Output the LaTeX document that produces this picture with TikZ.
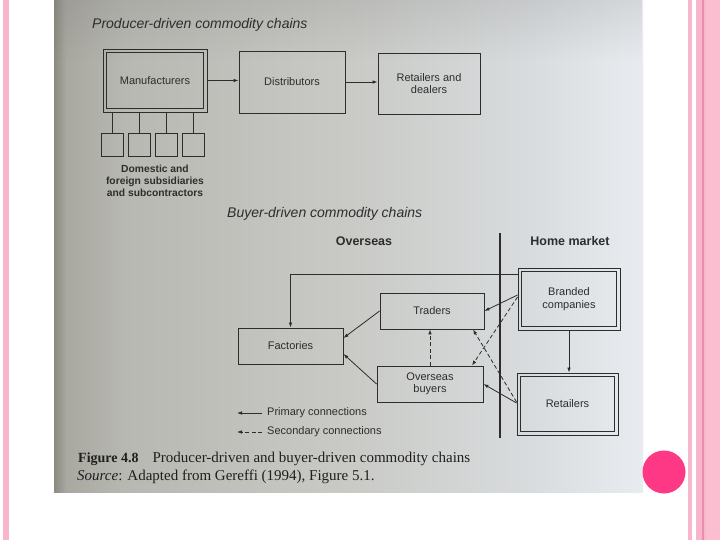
\documentclass[tikz,border=0pt]{standalone}
\usepackage{fontspec}
\setmainfont{Liberation Serif}
\setsansfont{Liberation Sans}
\usetikzlibrary{arrows.meta,calc,fadings}

\definecolor{ink}{RGB}{45,45,45}
\definecolor{pinkA}{RGB}{248,182,202}
\definecolor{pinkB}{RGB}{236,140,176}
\definecolor{pinkC}{RGB}{250,190,208}
\definecolor{hotpink}{RGB}{254,56,132}
\definecolor{p0}{RGB}{140,138,128}
\definecolor{p1}{RGB}{168,167,160}
\definecolor{p2}{RGB}{184,184,178}
\definecolor{p3}{RGB}{201,202,198}
\definecolor{p4}{RGB}{216,219,221}
\definecolor{p5}{RGB}{232,236,240}

\pgfdeclarehorizontalshading{photo}{100bp}{color(0bp)=(p0); color(25bp)=(p0); color(26bp)=(p1); color(31bp)=(p2); color(50bp)=(p3); color(65bp)=(p4); color(75bp)=(p5); color(100bp)=(p5)}
\tikzfading[name=topfade, top color=transparent!85, bottom color=transparent!100]

\tikzset{
  boxtext/.style={font=\sffamily\fontsize{11}{12.5}\selectfont, text=ink, align=center},
  box/.style={boxtext, draw=ink, line width=0.9pt, inner sep=0pt},
  sbox/.style={draw=ink, line width=0.9pt, minimum width=22pt, minimum height=23pt, inner sep=0pt},
  conn/.style={draw=ink, line width=0.8pt},
  arr/.style={conn, -{Latex[length=5pt,width=3.6pt]}},
  darr/.style={arr, dash pattern=on 4pt off 2.5pt},
  ttl/.style={font=\sffamily\itshape\fontsize{14}{16}\selectfont, text=ink, anchor=west, inner sep=0pt},
  hdr/.style={font=\sffamily\bfseries\fontsize{12.5}{14}\selectfont, text=ink, inner sep=0pt},
  leg/.style={font=\sffamily\fontsize{11}{12}\selectfont, text=ink, anchor=west, inner sep=0pt},
  captxt/.style={anchor=base west, inner sep=0pt, text=black!88},
}

\begin{document}
\begin{tikzpicture}[x=1pt,y=-1pt]
\useasboundingbox (0,0) rectangle (720,540);
\fill[white] (0,0) rectangle (720,540);

% slide decorations
\fill[pinkA] (3,0) rectangle (9,540);
\fill[pinkA] (688,0) rectangle (692,540);
\fill[pinkA] (696,0) rectangle (720,540);
\fill[pinkC] (706,0) rectangle (720,540);
\fill[pinkB] (701.5,0) rectangle (703.5,540);

% photo background
\shade[shading=photo] (54,0) rectangle (643,492);
\fill[black!60, path fading=topfade] (54,0) rectangle (643,60);

\fill[hotpink] (664,472) circle[radius=21.5pt];

% ---------- Producer-driven ----------
\node[ttl] (t1) at (92,25) {Producer-driven commodity chains};

\node[box, minimum width=104pt, minimum height=63pt] (mfr) at (155,80.5) {Manufacturers};
\draw[ink, line width=0.9pt] ([shift={(4pt,-4pt)}]mfr.north west) rectangle ([shift={(-4pt,4pt)}]mfr.south east);
\node[box, minimum width=106pt, minimum height=62pt] (dist) at (292,82) {Distributors};
\node[box, minimum width=102pt, minimum height=61pt] (ret) at (429,83.5) {Retailers and\\dealers};

\draw[arr] (mfr.east) -- (mfr.east -| dist.west);
\draw[arr] (dist.east) -- (dist.east -| ret.west);

\node[sbox] (s1) at (112.5,144.5) {};
\node[sbox] (s2) at (139,144.5) {};
\node[sbox] (s3) at (166,144.5) {};
\node[sbox] (s4) at (193,144.5) {};
\foreach \s in {s1,s2,s3,s4} \draw[conn] (\s.north) -- (\s.north |- mfr.south);

\node[font=\sffamily\bfseries\fontsize{10.3}{12}\selectfont, text=ink, align=center, inner sep=0pt] (subs) at (155,181) {Domestic and\\foreign subsidiaries\\and subcontractors};

% ---------- Buyer-driven ----------
\node[ttl] (t2) at (227,214) {Buyer-driven commodity chains};
\node[hdr] (ovs) at (364,241) {Overseas};
\node[hdr] (home) at (570,241) {Home market};

\coordinate (bartop) at (500,233);
\coordinate (barbot) at (500,438);
\draw[ink, line width=2.6pt] (bartop) -- (barbot);

\node[box, minimum width=102pt, minimum height=62pt] (brand) at (569,299) {Branded\\companies};
\draw[ink, line width=0.9pt] ([shift={(4pt,-4pt)}]brand.north west) rectangle ([shift={(-4pt,4pt)}]brand.south east);
\node[box, minimum width=101pt, minimum height=62pt] (retl) at (567.5,404) {Retailers};
\draw[ink, line width=0.9pt] ([shift={(4pt,-4pt)}]retl.north west) rectangle ([shift={(-4pt,4pt)}]retl.south east);

\node[box, minimum width=104pt, minimum height=36pt] (trad) at (432,311) {Traders};
\node[box, minimum width=106pt, minimum height=36pt] (buy) at (430,384) {Overseas\\buyers};
\node[box, minimum width=105pt, minimum height=36pt] (fact) at (290.5,346) {Factories};

% primary connections
\draw[arr] ([yshift=25pt]brand.west) -| (fact.north);
\draw[arr] (trad.west) -- ([yshift=8pt]fact.east);
\draw[arr] (buy.west) -- ([yshift=-8pt]fact.east);
\draw[arr] ([yshift=4pt]brand.west) -- (trad.east);
\draw[arr] ([yshift=1pt]retl.west) -- (buy.east);
\draw[arr] (brand.south) -- (brand.south |- retl.north);

% secondary connections
\draw[darr] (buy.north) -- (buy.north |- trad.south);
\draw[darr] ([yshift=2pt]brand.west) -- ([xshift=42pt]buy.north);
\draw[darr] ([yshift=2pt]retl.west) -- ([xshift=41pt]trad.south);

% legend
\node[leg] (lp) at (267,413) {Primary connections};
\node[leg] (ls) at (267,432) {Secondary connections};
\coordinate (lpa) at (262,413);
\coordinate (lpb) at (237,413);
\coordinate (lsa) at (262,432);
\coordinate (lsb) at (237,432);
\draw[arr] (lpa) -- (lpb);
\draw[darr] (lsa) -- (lsb);

% caption
\node[captxt, font=\fontsize{15}{17}\selectfont] (cap1) at (78,462) {{\fontsize{14}{17}\selectfont\textbf{Figure 4.8}}\hspace{14pt}Producer-driven and buyer-driven commodity chains};
\node[captxt, font=\fontsize{15}{17}\selectfont] (cap2) at (77,480) {\textit{Source}: Adapted from Gereffi (1994), Figure 5.1.};
\end{tikzpicture}
\end{document}
